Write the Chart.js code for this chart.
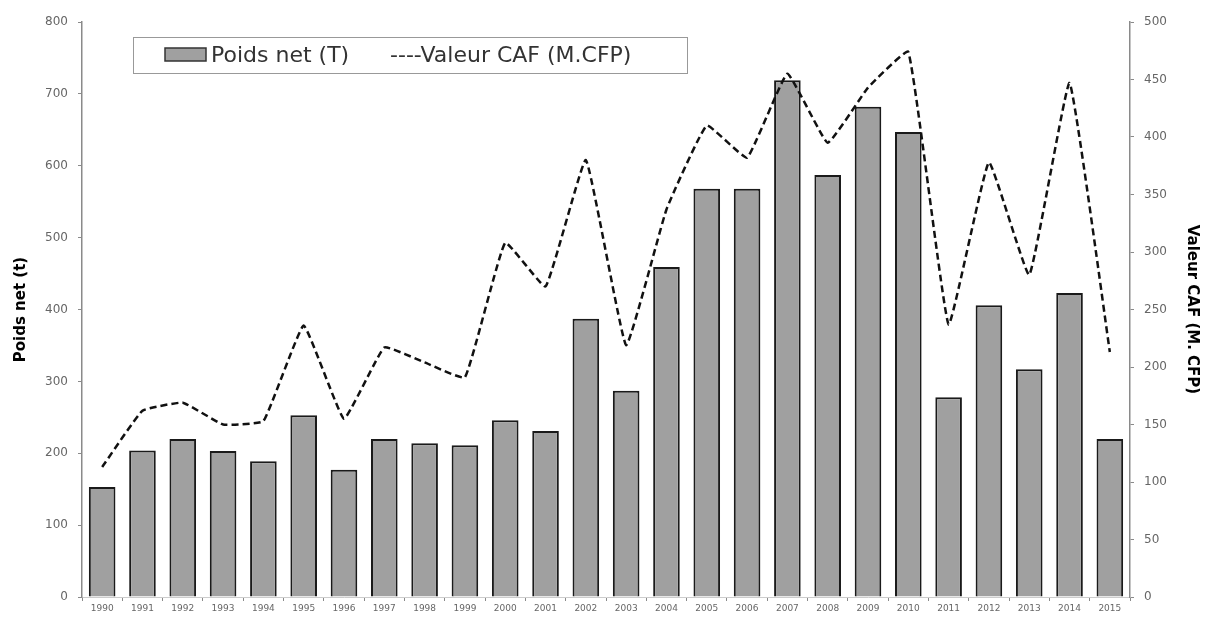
<!DOCTYPE html>
<html>
<head>
<meta charset="utf-8">
<script src="https://cdn.jsdelivr.net/npm/chart.js@4/dist/chart.umd.min.js"></script>
<style>
  html, body { margin: 0; padding: 0; background: #fff; }
  #wrap { width: 1205px; height: 618px; position: relative; }
</style>
</head>
<body>
<div id="wrap"><canvas id="grafico"></canvas></div>
<script>
// Données
const annees = ['1990', '1991', '1992', '1993', '1994', '1995', '1996', '1997', '1998', '1999', '2000', '2001', '2002',
    '2003', '2004', '2005', '2006', '2007', '2008', '2009', '2010', '2011', '2012', '2013', '2014', '2015'];
const poidsNet = [153, 204, 220, 203, 189, 253, 177, 220, 214, 211, 246, 231, 387,
    287, 459, 568, 568, 719, 587, 682, 647, 278, 406, 317, 423, 220];
const valeurCaf = [113, 162, 169, 150, 153, 236, 155, 217, 204, 191, 308, 270, 380,
    219, 337, 410, 382, 455, 395, 443, 474, 237, 378, 280, 447, 213];

const gris = '#8a8a8a';
const texteTick = '#666';

// Légende encadrée dessinée à la main
const legendeEncadree = {
    id: 'legendeEncadree',
    afterDraw(chart) {
        const ctx = chart.ctx;
        const a = chart.chartArea;
        const x0 = a.left + 51, y0 = a.top + 15, w = 554, h = 36;
        ctx.save();
        ctx.fillStyle = '#fff';
        ctx.fillRect(x0, y0, w, h);
        ctx.strokeStyle = '#999';
        ctx.lineWidth = 1;
        ctx.strokeRect(x0 + 0.5, y0 + 0.5, w, h);
        // carré gris
        ctx.fillStyle = '#a0a0a0';
        ctx.fillRect(x0 + 32, y0 + 11, 41, 13);
        ctx.strokeStyle = '#333';
        ctx.lineWidth = 1.5;
        ctx.strokeRect(x0 + 32, y0 + 11, 41, 13);
        ctx.fillStyle = '#333';
        ctx.font = '22px "DejaVu Sans"';
        ctx.textBaseline = 'middle';
        ctx.fillText('Poids net (T)', x0 + 78, y0 + h / 2 + 1);
        ctx.fillText('----Valeur CAF (M.CFP)', x0 + 257, y0 + h / 2 + 1);
        ctx.restore();
    }
};

const graficoCtx = document.getElementById('grafico').getContext('2d');

const chart = new Chart(graficoCtx, {
    data: {
        labels: annees,
        datasets: [
            {
                type: 'line',
                label: 'Valeur CAF (M.CFP)',
                data: valeurCaf,
                yAxisID: 'y2',
                borderColor: '#111',
                borderWidth: 2.5,
                borderDash: [7, 4],
                pointRadius: 0,
                tension: 0.1,
                fill: false,
                order: 0
            },
            {
                type: 'bar',
                label: 'Poids net (T)',
                data: poidsNet,
                yAxisID: 'y',
                backgroundColor: '#a0a0a0',
                borderColor: '#1a1a1a',
                borderWidth: 2,
                barPercentage: 0.66,
                categoryPercentage: 1,
                order: 1
            }
        ]
    },
    options: {
        responsive: true,
        maintainAspectRatio: false,
        animation: false,
        layout: { padding: { top: 22, left: 0, right: 0, bottom: 0 } },
        plugins: {
            legend: { display: false },
            tooltip: { enabled: false }
        },
        scales: {
            x: {
                offset: true,
                grid: {
                    display: true,
                    drawOnChartArea: false,
                    offset: true,
                    tickLength: 4,
                    color: gris
                },
                border: { color: '#ccc', width: 1 },
                ticks: {
                    color: texteTick,
                    font: { family: 'DejaVu Sans', size: 9 },
                    maxRotation: 0,
                    autoSkip: false,
                    padding: 2
                },
                afterFit: s => { s.height = 21; }
            },
            y: {
                position: 'left',
                min: 0,
                max: 800,
                ticks: {
                    stepSize: 100,
                    color: texteTick,
                    font: { family: 'DejaVu Sans', size: 12 },
                    padding: 10
                },
                grid: {
                    display: true,
                    drawOnChartArea: false,
                    tickLength: 4,
                    color: gris
                },
                border: { color: gris, width: 1.5 },
                title: {
                    display: true,
                    text: 'Poids net (t)',
                    color: '#000',
                    font: { family: 'DejaVu Sans', size: 15, weight: 'bold' },
                    padding: { top: 12, bottom: 0 }
                },
                afterFit: s => { s.width = 82; }
            },
            y2: {
                position: 'right',
                min: 0,
                max: 500,
                ticks: {
                    stepSize: 50,
                    color: texteTick,
                    font: { family: 'DejaVu Sans', size: 12 },
                    padding: 10
                },
                grid: {
                    display: true,
                    drawOnChartArea: false,
                    tickLength: 4,
                    color: gris
                },
                border: { color: gris, width: 1.5 },
                title: {
                    display: true,
                    text: 'Valeur CAF (M. CFP)',
                    color: '#000',
                    font: { family: 'DejaVu Sans', size: 15, weight: 'bold' },
                    padding: { top: 4, bottom: 0 }
                },
                afterFit: s => { s.width = 75; }
            }
        }
    },
    plugins: [legendeEncadree]
});
</script>
</body>
</html>
